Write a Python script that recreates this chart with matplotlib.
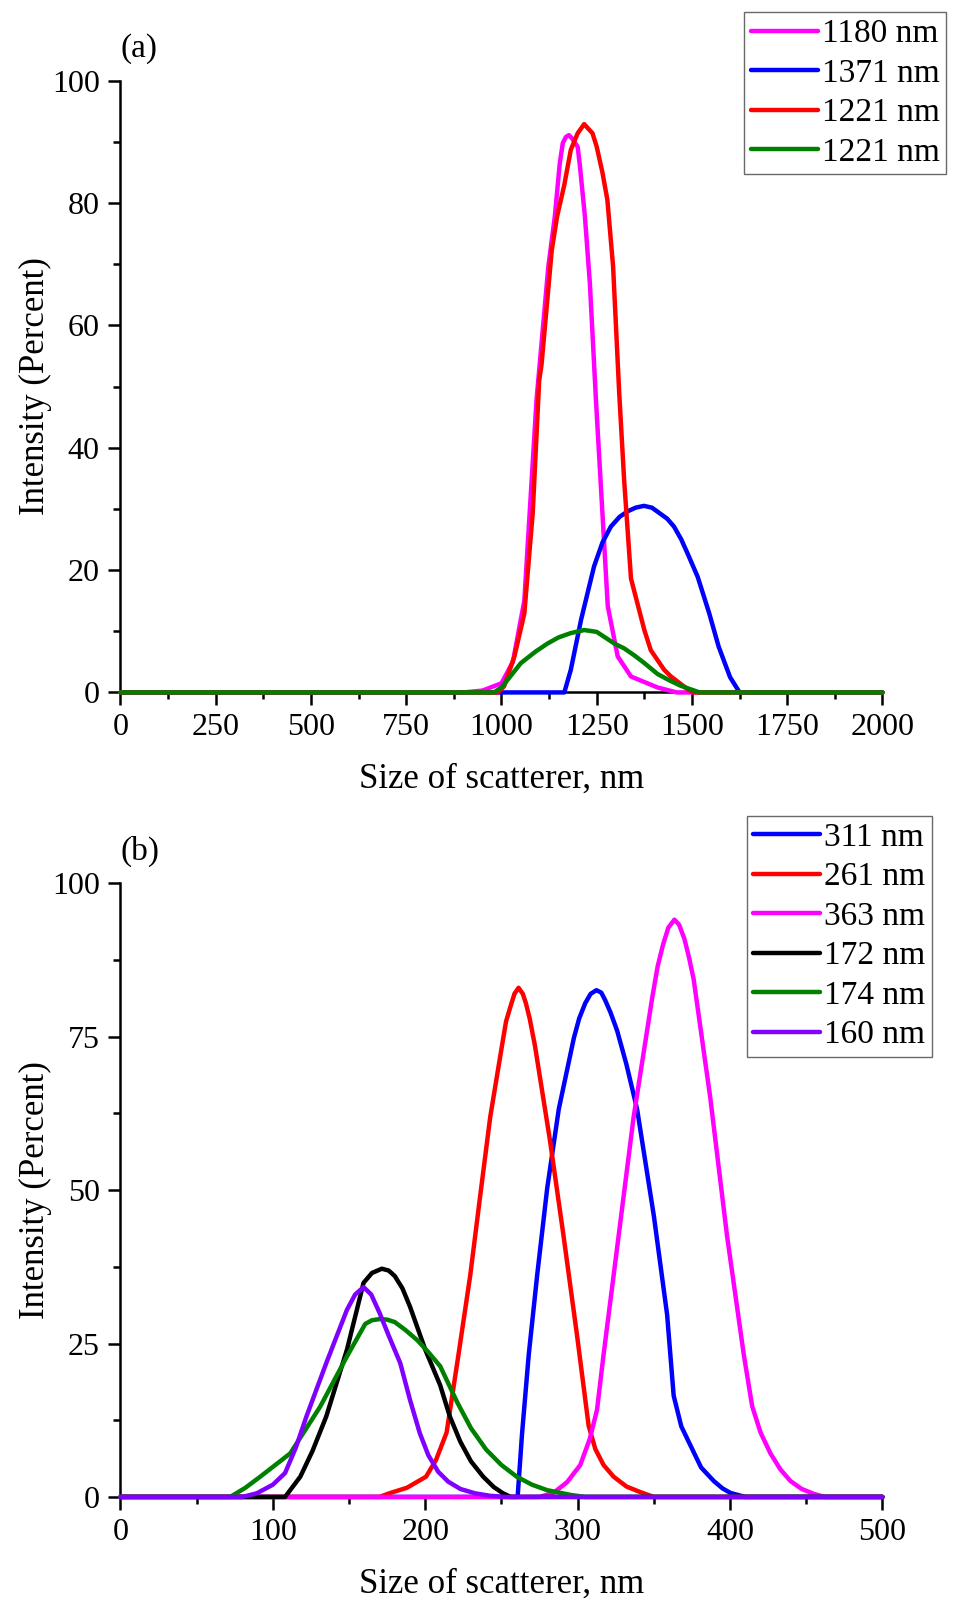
import matplotlib
matplotlib.use("Agg")
import matplotlib.pyplot as plt
from matplotlib.ticker import MultipleLocator

plt.rcParams['font.family'] = ['Liberation Serif', 'DejaVu Serif']

# (a) micro-scale distributions
a_labels = ['1180 nm', '1371 nm', '1221 nm', '1221 nm']
a_colors = ['#ff00ff', '#0000ff', '#ff0000', '#008000']

a1_x = [0, 900, 950, 1000, 1030, 1060, 1092, 1123, 1140, 1153, 1161, 1169, 1177, 1186, 1200, 1206, 1219, 1232, 1248, 1265, 1279, 1305, 1340, 1410, 1460, 2000]
a1_y = [0, 0, 0.3, 1.5, 5, 15, 47.8, 69.6, 77.8, 86.5, 89.8, 90.8, 91.1, 90.5, 89.2, 86, 77.8, 66.9, 47.8, 29.3, 14.1, 5.9, 2.6, 0.8, 0, 0]

a2_x = [0, 1165, 1182, 1209, 1243, 1265, 1287, 1310, 1331, 1352, 1374, 1395, 1415, 1435, 1453, 1472, 1490, 1515, 1545, 1570, 1600, 1625, 2000]
a2_y = [0, 0, 3.7, 11.9, 20.6, 24.5, 27.1, 28.7, 29.6, 30.2, 30.5, 30.2, 29.3, 28.4, 27.1, 25, 22.5, 18.9, 13, 7.5, 2.5, 0, 0]

a3_x = [0, 990, 1007, 1034, 1060, 1082, 1099, 1105, 1132, 1146, 1165, 1182, 1200, 1217, 1239, 1250, 1265, 1278, 1293, 1309, 1322, 1340, 1375, 1392, 1427, 1445, 1489, 1505, 2000]
a3_y = [0, 0, 1, 5.9, 12.9, 29.3, 51, 53.5, 72.3, 77.8, 83, 88.7, 91.4, 92.9, 91.4, 89.2, 85, 80.5, 69.6, 49, 34.7, 18.6, 10.2, 6.9, 3.7, 2.6, 0.5, 0, 0]

a4_x = [0, 980, 1000, 1051, 1090, 1121, 1150, 1182, 1217, 1250, 1296, 1322, 1350, 1375, 1410, 1440, 1470, 1497, 1520, 2000]
a4_y = [0, 0, 0.8, 4.8, 6.7, 8, 9, 9.7, 10.2, 9.9, 8, 7.2, 6, 4.8, 3, 2, 1.1, 0.5, 0, 0]

# (b) nano-scale distributions
b_labels = ['311 nm', '261 nm', '363 nm', '172 nm', '174 nm', '160 nm']
b_colors = ['#0000ff', '#ff0000', '#ff00ff', '#000000', '#008000', '#7f00ff']

b1_x = [0, 260.6, 263.5, 267.9, 273.4, 280, 287.6, 297.5, 301, 305, 308.5, 312.3, 315.5, 318, 321.5, 325.9, 332, 339, 350, 358.7, 363, 368, 374, 381, 389.3, 395, 400.3, 410, 500]
b1_y = [0, 0, 10.3, 23.2, 36.1, 50.3, 63.2, 74.8, 78, 80.5, 82, 82.6, 82.2, 81, 79, 76, 70.5, 63.2, 45.8, 29.7, 16.5, 11.5, 8.4, 4.8, 2.6, 1.4, 0.65, 0, 0]

b2_x = [0, 170, 176.5, 188, 200.5, 207, 214, 221.8, 229.5, 236, 242.6, 250.3, 253, 256, 258.5, 261.2, 264, 266, 268.5, 272, 281.9, 290.7, 299.5, 307.2, 311.6, 317, 323.6, 332, 341, 350, 500]
b2_y = [0, 0, 0.6, 1.5, 3.3, 6, 10.5, 23.2, 36.1, 49, 61.9, 73.5, 77.5, 80, 82, 83, 82, 80.5, 78, 73.5, 58, 42.6, 26.5, 11.6, 7.8, 5.2, 3.3, 1.7, 0.8, 0, 0]

b3_x = [0, 275, 284.3, 293, 301.7, 308, 312.7, 317, 326.9, 336.7, 348.8, 352.5, 356, 359.5, 363.5, 366.5, 370, 373, 376.1, 387, 398, 409, 414.5, 420, 426.5, 433, 439.6, 447, 455, 462, 500]
b3_y = [0, 0, 0.7, 2.4, 5.2, 9.5, 14.2, 23.2, 42.6, 61.9, 81.2, 86.5, 90, 92.8, 94.1, 93.3, 91, 88, 84.4, 65.1, 42.6, 23.2, 14.8, 10.5, 7.1, 4.5, 2.6, 1.3, 0.5, 0, 0]

b4_x = [0, 108, 118, 126, 135, 148.6, 159.5, 165, 171.5, 176, 180, 185, 190, 200, 209.8, 216, 223, 230, 238, 245, 251, 256, 500]
b4_y = [0, 0, 3.3, 7.5, 13.1, 24, 34.9, 36.5, 37.2, 36.9, 36, 34, 31, 24, 18.2, 13.2, 9, 5.8, 3.3, 1.6, 0.6, 0, 0]

b5_x = [0, 72, 82, 91.7, 111.4, 131, 148.6, 160.6, 165, 170.4, 175, 180, 187, 195, 202, 209.8, 220.8, 230, 240, 250, 260, 270, 280, 296, 305, 500]
b5_y = [0, 0, 1.5, 3.3, 7.1, 14.7, 22.9, 28.2, 28.8, 29, 28.9, 28.5, 27.2, 25.5, 23.6, 21.3, 15.5, 11.2, 7.7, 5.2, 3.3, 2, 1.1, 0.3, 0, 0]

b6_x = [0, 80, 89.5, 100, 108, 115, 122, 135, 148.6, 154, 159.5, 164.5, 170, 176, 183.6, 190, 196.4, 202, 208.5, 215, 223, 232.5, 242, 252, 500]
b6_y = [0, 0, 0.6, 2, 3.9, 8, 13.1, 21.8, 30.5, 33, 34.2, 33, 30, 26.3, 21.8, 15.8, 10.4, 6.8, 4.1, 2.5, 1.3, 0.6, 0.2, 0, 0]

a_series = [(a1_x, a1_y), (a2_x, a2_y), (a3_x, a3_y), (a4_x, a4_y)]
b_series = [(b1_x, b1_y), (b2_x, b2_y), (b3_x, b3_y), (b4_x, b4_y), (b5_x, b5_y), (b6_x, b6_y)]

fig = plt.figure(figsize=(9.54, 16.01), dpi=100)
ax_a = fig.add_axes([0.1263, 0.5675, 0.7987, 0.3821])
ax_b = fig.add_axes([0.1263, 0.0650, 0.7987, 0.3832])


def style_axes(ax, xmax, xmajor, xminor, ymajor, yminor):
    ax.set_xlim(0, xmax)
    ax.set_ylim(0, 100)
    ax.spines['top'].set_visible(False)
    ax.spines['right'].set_visible(False)
    for s in ['left', 'bottom']:
        ax.spines[s].set_linewidth(1.8)
    ax.xaxis.set_major_locator(MultipleLocator(xmajor))
    ax.xaxis.set_minor_locator(MultipleLocator(xminor))
    ax.yaxis.set_major_locator(MultipleLocator(ymajor))
    ax.yaxis.set_minor_locator(MultipleLocator(yminor))
    ax.tick_params(which='major', direction='out', length=9, width=1.8, labelsize=23, pad=6)
    ax.tick_params(which='minor', direction='out', length=5, width=1.8)
    ax.set_xlabel('Size of scatterer, nm', fontsize=25, labelpad=15)
    ax.set_ylabel('Intensity (Percent)', fontsize=25, labelpad=0)


for (x, y), c, lab in zip(a_series, a_colors, a_labels):
    ax_a.plot(x, y, color=c, lw=3.2, label=lab, clip_on=False, zorder=3,
              solid_joinstyle='round', solid_capstyle='round')
style_axes(ax_a, 2000, 250, 125, 20, 10)

for (x, y), c, lab in zip(b_series, b_colors, b_labels):
    ax_b.plot(x, y, color=c, lw=3.2, label=lab, clip_on=False, zorder=3,
              solid_joinstyle='round', solid_capstyle='round')
style_axes(ax_b, 500, 100, 50, 25, 12.5)

leg_kw = dict(fontsize=24, frameon=True, fancybox=False, edgecolor='#444444',
              handlelength=2.0, handletextpad=0.12, labelspacing=0.27,
              borderpad=0.2, borderaxespad=0, loc='upper right',
              bbox_transform=fig.transFigure)
la = ax_a.legend(bbox_to_anchor=(0.992, 0.9925), **leg_kw)
lb = ax_b.legend(bbox_to_anchor=(0.977, 0.4905), **leg_kw)
for lg in (la, lb):
    lg.get_frame().set_linewidth(1.0)

fig.text(0.1263, 1 - 48.5 / 1601, '(a)', fontsize=24, ha='left', va='center')
fig.text(0.1263, 1 - 851 / 1601, '(b)', fontsize=24, ha='left', va='center')

fig.savefig('out.png', dpi=100)
